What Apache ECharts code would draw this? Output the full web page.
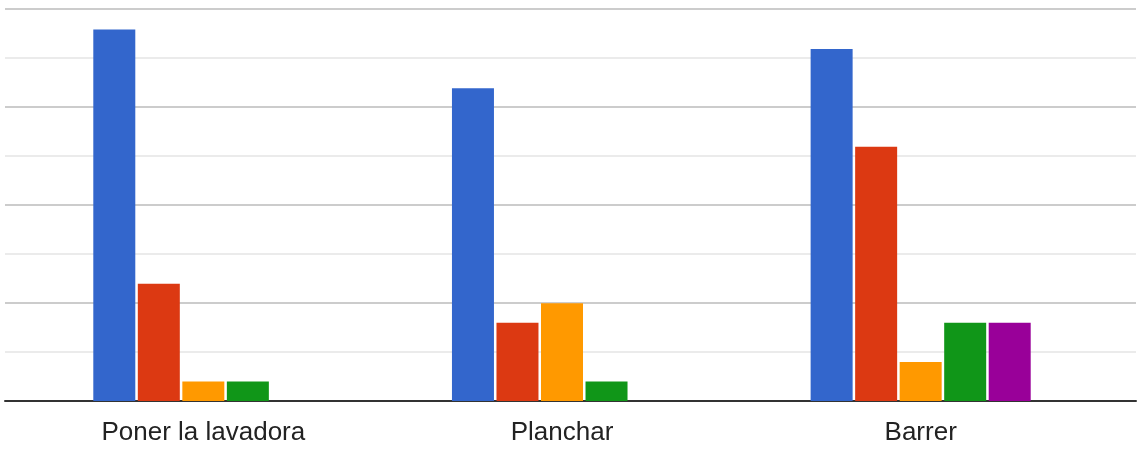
<!DOCTYPE html>
<html>
<head>
<meta charset="utf-8">
<script src="https://cdn.jsdelivr.net/npm/echarts@6/dist/echarts.min.js"></script>
<style>
html,body{margin:0;padding:0;background:#fff;}
#chart{width:1142px;height:450px;}
</style>
</head>
<body>
<div id="chart"></div>
<script>
const categories = ['Poner la lavadora', 'Planchar', 'Barrer'];
const seriesBlue = [38, 32, 36];
const seriesRed = [12, 8, 26];
const seriesOrange = [2, 10, 4];
const seriesGreen = [2, 2, 8];
const seriesPurple = [0, 0, 8];
const colors = ['#3366cc', '#dc3912', '#ff9900', '#109618', '#990099'];

const chart = echarts.init(document.getElementById('chart'));
const yCommon = {type: 'value', min: 0, max: 40, interval: 5};
const data = [seriesBlue, seriesRed, seriesOrange, seriesGreen, seriesPurple];
chart.setOption({
  animation: false,
  grid: [
    {left: 5, right: 6, top: 9, bottom: 49},
    {left: 24, right: 42, top: 10, bottom: 49}
  ],
  xAxis: [
    {gridIndex: 0, type: 'value', min: 0, max: 1, axisLine: {show: true, lineStyle: {color: '#333333', width: 2}},
     axisTick: {show: false}, axisLabel: {show: false}, splitLine: {show: false}},
    {gridIndex: 1, type: 'category', data: categories, axisLine: {show: false}, axisTick: {show: false},
     axisLabel: {color: '#222222', fontSize: 26, fontFamily: 'Liberation Sans, Arial, sans-serif', margin: 19}}
  ],
  yAxis: [
    Object.assign({gridIndex: 0, axisLine: {show: false}, axisTick: {show: false}, axisLabel: {show: false},
      splitLine: {show: true, lineStyle: {color: ['#cccccc', '#ebebeb'], width: 2}}}, yCommon),
    Object.assign({gridIndex: 1, show: false, splitLine: {show: false}}, yCommon)
  ],
  series: data.map((d, i) => ({
    type: 'bar', xAxisIndex: 1, yAxisIndex: 1, data: d, barWidth: 42, barGap: '6%',
    itemStyle: {color: colors[i]}
  }))
});
</script>
</body>
</html>
